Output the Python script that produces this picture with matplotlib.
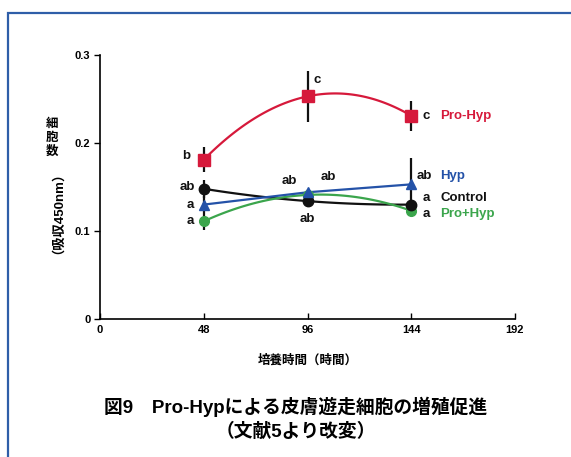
import numpy as np
import matplotlib
matplotlib.use('Agg')
import matplotlib.pyplot as plt
from matplotlib.patches import Rectangle

plt.rcParams['font.family'] = ['Liberation Sans', 'Noto Sans CJK JP']
plt.rcParams['font.weight'] = 'bold'

# data
hours = [48, 96, 144]
pro_hyp = [0.181, 0.253, 0.231]
pro_hyp_err = [0.014, 0.029, 0.017]
hyp = [0.130, 0.144, 0.153]
hyp_err = [0.010, 0.004, 0.030]
control = [0.148, 0.134, 0.130]
control_err = [0.010, 0.004, 0.004]
pro_plus_hyp = [0.111, 0.141, 0.123]
pro_plus_hyp_err = [0.010, 0.004, 0.004]

pro_hyp_letters = ['b', 'c', 'c']
hyp_letters = ['a', 'ab', 'ab']
control_letters = ['ab', 'ab', 'a']
pro_plus_hyp_letters = ['a', 'ab', 'a']

x_ticks = [0, 48, 96, 144, 192]
y_ticks = [0, 0.1, 0.2, 0.3]
y_tick_labels = ['0', '0.1', '0.2', '0.3']

RED = '#d6193b'
BLUE = '#2452a8'
GREEN = '#3ba54c'
BLACK = '#111111'

fig = plt.figure(figsize=(5.71, 4.57), dpi=100)
fig.patches.append(Rectangle((8 / 571, -0.01), 1.0, 1 - 13 / 457 + 0.01,
                             transform=fig.transFigure, fill=False,
                             edgecolor='#2f5ea8', linewidth=1.6))

ax = fig.add_axes([100 / 571, 1 - 319 / 457, 415 / 571, 264 / 457])


def smooth(xs, ys):
    # quadratic through the three points, for the curved lines
    p = np.polyfit(xs, ys, 2)
    xx = np.linspace(xs[0], xs[-1], 100)
    return xx, np.polyval(p, xx)


# lines
xx, yy = smooth(hours, pro_hyp)
ax.plot(xx, yy, color=RED, lw=1.6, zorder=3)
xx, yy = smooth(hours, control)
ax.plot(xx, yy, color=BLACK, lw=1.6, zorder=3)
xx, yy = smooth(hours, pro_plus_hyp)
ax.plot(xx, yy, color=GREEN, lw=1.6, zorder=3)
ax.plot(hours, hyp, color=BLUE, lw=1.6, zorder=3)

# error bars and markers
for vals, errs in [(pro_hyp, pro_hyp_err), (control, control_err),
                   (hyp, hyp_err), (pro_plus_hyp, pro_plus_hyp_err)]:
    ax.errorbar(hours, vals, yerr=errs, fmt='none', ecolor=BLACK, elinewidth=1.6, zorder=2)

ax.plot(hours, pro_plus_hyp, 'o', color=GREEN, ms=7, zorder=4)
ax.plot(hours, control, 'o', color=BLACK, ms=7.5, zorder=5)
ax.plot(hours, hyp, '^', color=BLUE, ms=7, zorder=6)
ax.plot(hours, pro_hyp, 's', color=RED, ms=8.5, zorder=6)

# significance letters
fs = 9.5


def letter(txt, x, y, dx, dy, ha='center', va='center', color=BLACK):
    ax.annotate(txt, (x, y), xytext=(dx, dy), textcoords='offset points',
                ha=ha, va=va, fontsize=fs, color=color)


letter(pro_hyp_letters[0], hours[0], pro_hyp[0], -10, 3, ha='right')
letter(control_letters[0], hours[0], control[0], -6, 1, ha='right')
letter(hyp_letters[0], hours[0], hyp[0], -7, 0, ha='right')
letter(pro_plus_hyp_letters[0], hours[0], pro_plus_hyp[0], -7, 0, ha='right')

letter(pro_hyp_letters[1], hours[1], pro_hyp[1] + pro_hyp_err[1], 4, -2, ha='left', va='top')
letter(control_letters[1], hours[1], control[1], 0, -13)
letter(hyp_letters[1], hours[1], hyp[1], 15, 11)
letter(pro_plus_hyp_letters[1], hours[1], pro_plus_hyp[1], -13, 10)

letter(pro_hyp_letters[2], hours[2], pro_hyp[2], 8, 0, ha='left')
letter(hyp_letters[2], hours[2], hyp[2], 4, 6, ha='left')
letter(control_letters[2], hours[2], control[2], 8, 5, ha='left')
letter(pro_plus_hyp_letters[2], hours[2], pro_plus_hyp[2], 8, -2, ha='left')

# series names
letter('Pro-Hyp', hours[2], pro_hyp[2], 21, 0, ha='left', color=RED)
letter('Hyp', hours[2], hyp[2], 21, 6, ha='left', color=BLUE)
letter('Control', hours[2], control[2], 21, 5, ha='left', color=BLACK)
letter('Pro+Hyp', hours[2], pro_plus_hyp[2], 21, -2, ha='left', color=GREEN)

# axes styling
ax.set_xlim(0, 192)
ax.set_ylim(0, 0.3)
ax.set_xticks(x_ticks)
ax.set_xticklabels([str(t) for t in x_ticks], fontsize=8, fontweight='bold')
ax.set_yticks(y_ticks)
ax.set_yticklabels(y_tick_labels, fontsize=8, fontweight='bold')
ax.tick_params(axis='x', direction='in', length=4, width=1, pad=4)
ax.tick_params(axis='y', direction='out', length=4, width=1, pad=3)
ax.spines['top'].set_visible(False)
ax.spines['right'].set_visible(False)
for s in ['left', 'bottom']:
    ax.spines[s].set_linewidth(1.2)

ax.set_xlabel('培養時間（時間）', fontsize=9, fontweight='bold', labelpad=14)

# y label: upright kanji stacked, then rotated part
for i, ch in enumerate('細胞数'):
    fig.text(52 / 571, 1 - (124 + 14 * i) / 457, ch, fontsize=9, fontweight='bold',
             ha='center', va='center')
fig.text(52 / 571, 1 - 206 / 457, '（吸収450nm）', fontsize=9.5, fontweight='bold',
         ha='center', va='center', rotation=90)

# caption
fig.text(296 / 571, 1 - 407 / 457, '図9　Pro-Hypによる皮膚遊走細胞の増殖促進',
         fontsize=13.5, fontweight='bold', ha='center', va='center')
fig.text(296 / 571, 1 - 432 / 457, '（文献5より改変）',
         fontsize=13.5, fontweight='bold', ha='center', va='center')

fig.savefig('out.png', dpi=100)
